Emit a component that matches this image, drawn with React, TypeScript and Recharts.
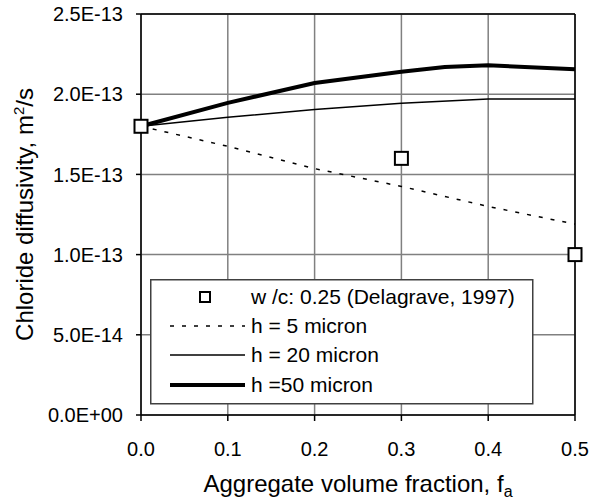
import React from "react";
import {
  ComposedChart,
  Line,
  Scatter,
  XAxis,
  YAxis,
  CartesianGrid,
  ReferenceLine,
  Legend,
} from "recharts";

// ---- data ----
const measX = [0, 0.3, 0.5];
const measY = [1.8e-13, 1.6e-13, 1.0e-13];

const h5X = [0, 0.1, 0.2, 0.3, 0.4, 0.5];
const h5Y = [1.8e-13, 1.675e-13, 1.536e-13, 1.425e-13, 1.3e-13, 1.19e-13];

const h20X = [0, 0.1, 0.2, 0.3, 0.4, 0.5];
const h20Y = [1.8e-13, 1.856e-13, 1.904e-13, 1.943e-13, 1.97e-13, 1.97e-13];

const h50X = [0, 0.1, 0.2, 0.3, 0.35, 0.4, 0.5];
const h50Y = [1.8e-13, 1.946e-13, 2.07e-13, 2.14e-13, 2.17e-13, 2.18e-13, 2.155e-13];

const xTicks = [0, 0.1, 0.2, 0.3, 0.4, 0.5];
const yTicks = [0, 5e-14, 1e-13, 1.5e-13, 2e-13, 2.5e-13];

const legendLabels = [
  "w /c: 0.25 (Delagrave, 1997)",
  "h = 5 micron",
  "h = 20 micron",
  "h =50 micron",
];

const xTitle = "Aggregate volume fraction, f";
const xTitleSub = "a";
const yTitleA = "Chloride diffusivity, m";
const yTitleSup = "2";
const yTitleB = "/s";

const zip = (xs: number[], ys: number[]) => xs.map((x, i) => ({ x, y: ys[i] }));
const measData = zip(measX, measY);
const h5Data = zip(h5X, h5Y);
const h20Data = zip(h20X, h20Y);
const h50Data = zip(h50X, h50Y);

const FONT = "'Liberation Sans', Arial, sans-serif";

const fmtE = (v: number) => {
  if (v === 0) return "0.0E+00";
  const [m, e] = v.toExponential(1).split("e");
  const n = parseInt(e, 10);
  return `${m}E${n < 0 ? "-" : "+"}${String(Math.abs(n)).padStart(2, "0")}`;
};

const Square = (props: any) => {
  const { cx, cy } = props;
  if (cx == null || cy == null) return null;
  const s = 13;
  return (
    <rect x={cx - s / 2} y={cy - s / 2} width={s} height={s} fill="#fff" stroke="#000" strokeWidth={2} />
  );
};

const LegendBox = () => {
  const rows = [18, 47, 76, 106];
  const lx1 = 20;
  const lx2 = 95;
  const tx = 101;
  return (
    <svg width={384} height={126} style={{ display: "block" }}>
      <rect x={0.75} y={0.75} width={382} height={124} fill="#fff" stroke="#404040" strokeWidth={1.5} />
      <rect x={50} y={rows[0] - 5} width={10} height={10} fill="#fff" stroke="#000" strokeWidth={2} />
      <line x1={lx1} x2={lx2} y1={rows[1]} y2={rows[1]} stroke="#000" strokeWidth={1.5} strokeDasharray="4 8" />
      <line x1={lx1} x2={lx2} y1={rows[2]} y2={rows[2]} stroke="#000" strokeWidth={1.5} />
      <line x1={lx1} x2={lx2} y1={rows[3]} y2={rows[3]} stroke="#000" strokeWidth={4} />
      {legendLabels.map((t, i) => (
        <text key={i} x={tx} y={rows[i]} dy="0.35em" fontSize={21} fontFamily={FONT} fill="#000">
          {t}
        </text>
      ))}
    </svg>
  );
};

const XTitle = (props: any) => {
  const vb = props.viewBox || {};
  const cx = vb.x + vb.width / 2;
  return (
    <text x={cx} y={vb.y + 77} textAnchor="middle" fontSize={24} fontFamily={FONT} fill="#000">
      {xTitle}
      <tspan fontSize={16} dy={5}>{xTitleSub}</tspan>
    </text>
  );
};

const YTitle = (props: any) => {
  const vb = props.viewBox || {};
  const cy = vb.y + vb.height / 2;
  const x = 33;
  return (
    <text
      x={x}
      y={cy}
      transform={`rotate(-90, ${x}, ${cy})`}
      textAnchor="middle"
      fontSize={24}
      fontFamily={FONT}
      fill="#000"
    >
      {yTitleA}
      <tspan fontSize={15} dy={-9}>{yTitleSup}</tspan>
      <tspan dy={9}>{yTitleB}</tspan>
    </text>
  );
};

export default function App() {
  return (
    <div style={{ position: "absolute", left: 0, top: 0, width: 592, height: 503, background: "#fff" }}>
      <ComposedChart width={592} height={503} margin={{ top: 14, right: 17, bottom: 0, left: 0 }}>
        <CartesianGrid stroke="#808080" strokeWidth={1.5} />
        <XAxis
          type="number"
          dataKey="x"
          domain={[0, 0.5]}
          ticks={xTicks}
          tickFormatter={(v: number) => v.toFixed(1)}
          height={88}
          tickSize={6}
          tickMargin={21}
          stroke="#000"
          strokeWidth={1.5}
          tick={{ fill: "#000", fontSize: 20, fontFamily: FONT }}
          label={{ content: XTitle }}
        />
        <YAxis
          type="number"
          dataKey="y"
          domain={[0, 2.5e-13]}
          ticks={yTicks}
          tickFormatter={fmtE}
          width={141}
          tickSize={5}
          tickMargin={13}
          stroke="#000"
          strokeWidth={1.5}
          tick={{ fill: "#000", fontSize: 20, fontFamily: FONT }}
          label={{ content: YTitle }}
        />
        <ReferenceLine x={0.5} stroke="#000" strokeWidth={1.5} />
        <ReferenceLine y={2.5e-13} stroke="#000" strokeWidth={1.5} />
        <Line data={h5Data} dataKey="y" stroke="#000" strokeWidth={1.5} strokeDasharray="4 8" dot={false} isAnimationActive={false} />
        <Line data={h20Data} dataKey="y" stroke="#000" strokeWidth={1.5} dot={false} isAnimationActive={false} />
        <Line data={h50Data} dataKey="y" stroke="#000" strokeWidth={4} dot={false} isAnimationActive={false} />
        <Scatter data={measData} dataKey="y" shape={Square} isAnimationActive={false} />
        <Legend
          layout="horizontal"
          verticalAlign="middle"
          align="center"
          content={LegendBox}
          wrapperStyle={{ position: "absolute", left: 150, top: 279, width: 384, height: 126 }}
        />
      </ComposedChart>
    </div>
  );
}
